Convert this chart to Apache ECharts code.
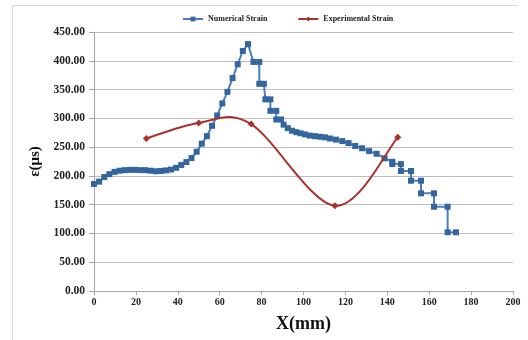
<!DOCTYPE html>
<html>
<head>
<meta charset="utf-8">
<script src="https://cdn.jsdelivr.net/npm/echarts@6/dist/echarts.min.js"></script>
<style>
  html, body { margin: 0; padding: 0; background: #fff; }
  #chart { width: 528px; height: 340px; }
</style>
</head>
<body>
<div id="chart"></div>
<script>
// Strain along the specimen, X in mm, strain in microstrain
var numericalStrain = [
  [0, 186], [2.45, 190], [4.9, 198], [7.35, 203], [9.8, 207], [12.25, 209],
  [14.7, 210], [17.15, 210.5], [19.6, 210.5], [22.05, 210], [24.5, 210],
  [26.95, 209], [29.4, 208], [31.85, 208.5], [34.3, 209.5], [36.75, 211],
  [39.2, 214], [41.65, 219], [44.1, 224], [46.55, 231], [49, 242],
  [51.45, 256], [53.9, 269], [56.35, 287], [58.8, 305], [61.25, 326],
  [63.7, 346], [66.15, 370], [68.6, 394], [71.05, 417], [73.5, 429],
  [76.1, 398], [78.9, 398], [78.9, 360], [81.1, 360], [81.8, 333],
  [84.2, 333], [84.2, 313], [87, 313], [87, 298], [89.3, 298],
  [90.5, 289], [92.5, 283], [94.5, 278.5], [96.5, 276], [98.6, 274],
  [100.7, 272], [103, 270], [105.5, 269], [108, 268], [110.3, 267],
  [112.6, 265], [115.5, 263], [118.5, 260.5], [121.5, 257], [124.7, 252],
  [128, 248], [131.3, 243], [134.9, 238.5], [138.7, 230.5], [142.4, 224.5],
  [142.4, 220.5], [146.5, 220.5], [146.5, 208.5], [151.3, 208.5],
  [151.3, 191.6], [156.1, 191.6], [156.1, 169.7], [162.3, 169.7],
  [162.3, 146.4], [168.8, 146.4], [168.8, 102], [172.8, 102]
];
var experimentalStrain = [
  [25, 265], [50, 292], [75, 290], [115, 148], [145, 267]
];
var seriesNames = ['Numerical Strain', 'Experimental Strain'];

var serif = '"Liberation Serif", "Times New Roman", serif';
var blueLine = '#4a7ebb', blueMark = '#35659f', red = '#a9322e';

// Smoothed segment between measured points i and i+1 (cardinal spline,
// tangent = (next - prev) / 6, endpoints use themselves as neighbours).
function renderSmoothSegment(params, api) {
  var i = params.dataIndex;
  var n = experimentalStrain.length;
  if (i >= n - 1) return null;
  var pt = function (k) {
    k = Math.max(0, Math.min(n - 1, k));
    return api.coord(experimentalStrain[k]);
  };
  var p0 = pt(i - 1), p1 = pt(i), p2 = pt(i + 1), p3 = pt(i + 2);
  return {
    type: 'bezierCurve',
    shape: {
      x1: p1[0], y1: p1[1],
      x2: p2[0], y2: p2[1],
      cpx1: p1[0] + (p2[0] - p0[0]) / 6, cpy1: p1[1] + (p2[1] - p0[1]) / 6,
      cpx2: p2[0] - (p3[0] - p1[0]) / 6, cpy2: p2[1] - (p3[1] - p1[1]) / 6
    },
    style: { stroke: red, lineWidth: 2, fill: null }
  };
}

var chart = echarts.init(document.getElementById('chart'), null, { renderer: 'canvas' });

chart.setOption({
  animation: false,
  backgroundColor: '#ffffff',
  graphic: [
    { type: 'line', shape: { x1: 12, y1: 5.5, x2: 518, y2: 5.5 }, style: { stroke: '#d9d9d9', lineWidth: 1 } },
    { type: 'line', shape: { x1: 12.5, y1: 5, x2: 12.5, y2: 340 }, style: { stroke: '#d9d9d9', lineWidth: 1 } }
  ],
  legend: {
    data: [
      { name: seriesNames[0] },
      { name: seriesNames[1], lineStyle: { color: red, width: 2, opacity: 1 } }
    ],
    left: 177,
    top: 10,
    itemWidth: 20,
    itemHeight: 6,
    itemGap: 30,
    textStyle: { fontFamily: serif, fontWeight: 'bold', fontSize: 8, color: '#222' }
  },
  grid: { left: 94, right: 15, top: 32, bottom: 49, containLabel: false },
  xAxis: {
    type: 'value',
    min: 0, max: 200, interval: 20,
    name: 'X(mm)',
    nameLocation: 'middle',
    nameGap: 24,
    nameTextStyle: { fontFamily: serif, fontWeight: 'bold', fontSize: 18, color: '#111' },
    axisLine: { lineStyle: { color: '#a6a6a6' } },
    axisTick: { show: true, length: 4, lineStyle: { color: '#a6a6a6' } },
    axisLabel: { fontFamily: serif, fontWeight: 'bold', fontSize: 10, color: '#222', margin: 6 },
    splitLine: { show: false }
  },
  yAxis: {
    type: 'value',
    min: 0, max: 450, interval: 50,
    name: 'ε(μs)',
    nameLocation: 'middle',
    nameGap: 46,
    nameTextStyle: { fontFamily: serif, fontWeight: 'bold', fontSize: 15, color: '#111' },
    axisLine: { show: true, lineStyle: { color: '#a6a6a6' } },
    axisTick: { show: true, length: 5, lineStyle: { color: '#a6a6a6' } },
    axisLabel: {
      fontFamily: serif, fontWeight: 'bold', fontSize: 11.5, color: '#222', margin: 9,
      formatter: function (v) { return v.toFixed(2); }
    },
    splitLine: { show: true, lineStyle: { color: '#bfbfbf', width: 1 } }
  },
  series: [
    {
      name: seriesNames[0],
      type: 'line',
      data: numericalStrain,
      symbol: 'rect',
      symbolSize: 6,
      lineStyle: { color: blueLine, width: 2 },
      itemStyle: { color: blueMark, borderColor: blueMark, borderWidth: 0 },
      z: 3
    },
    {
      // measured points (markers only; the curve is drawn by the next series)
      name: seriesNames[1],
      type: 'line',
      data: experimentalStrain,
      symbol: 'diamond',
      symbolSize: 7,
      lineStyle: { color: red, width: 2, opacity: 0 },
      itemStyle: { color: red },
      z: 5
    },
    {
      name: seriesNames[1],
      type: 'custom',
      data: experimentalStrain,
      renderItem: renderSmoothSegment,
      encode: { x: 0, y: 1 },
      z: 4
    }
  ]
});
</script>
</body>
</html>
